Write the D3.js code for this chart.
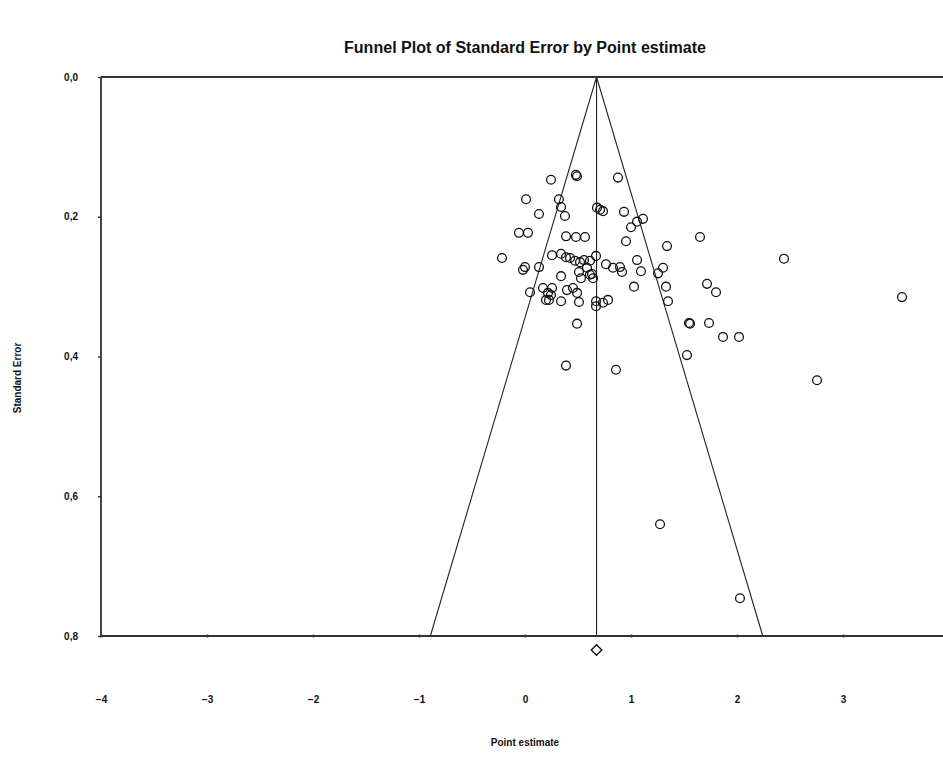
<!DOCTYPE html>
<html>
<head>
<meta charset="utf-8">
<script src="https://cdn.jsdelivr.net/npm/d3@7"></script>
<style>
    body { margin: 0; background: #fff; }
    text { font-family: "Liberation Sans Narrow", "Arial Narrow", "Liberation Sans", sans-serif; font-weight: bold; fill: #111; }
</style>
</head>
<body>
<svg id="funnel" width="943" height="776"></svg>
<script>

// study point estimates and their standard errors
var pointEstimates = [
    0.245, 0.49, 0.48, 0.877, 0.01, 0.32, 0.34, 0.377, 0.132, 0.679,
    0.708, 0.736, 0.934, 1.057, 1.113, 1.0, 0.953, 1.34, 1.651, -0.057,
    0.028, 0.387, 0.481, 0.566, -0.217, 0.255, 0.34, 0.387, 0.425, 0.472,
    0.519, 0.557, 0.613, 0.67, 0.764, 0.83, 0.896, 0.915, 1.057, 1.094,
    1.255, 1.302, -0.019, 0.0, 0.132, 0.34, 0.509, 0.528, 0.632, 0.642,
    0.585, 0.047, 0.17, 0.217, 0.255, 0.245, 0.226, 0.34, 0.396, 0.453,
    0.491, 0.509, 0.67, 0.67, 0.736, 0.783, 1.028, 1.33, 1.349, 1.717,
    1.802, 1.547, 1.557, 1.736, 0.491, 0.387, 0.858, 1.528, 1.868, 2.019,
    2.443, 3.557, 2.755, 1.274, 2.028, 0.613, 0.198
];
var standardErrors = [
    0.147, 0.142, 0.140, 0.144, 0.175, 0.175, 0.186, 0.199, 0.196, 0.187,
    0.190, 0.192, 0.193, 0.207, 0.203, 0.215, 0.235, 0.242, 0.229, 0.223,
    0.223, 0.228, 0.229, 0.229, 0.259, 0.255, 0.253, 0.258, 0.259, 0.263,
    0.265, 0.262, 0.263, 0.256, 0.268, 0.273, 0.272, 0.279, 0.262, 0.278,
    0.281, 0.273, 0.276, 0.272, 0.272, 0.285, 0.279, 0.288, 0.282, 0.288,
    0.273, 0.308, 0.302, 0.309, 0.302, 0.312, 0.319, 0.321, 0.305, 0.302,
    0.309, 0.322, 0.321, 0.328, 0.323, 0.319, 0.300, 0.300, 0.321, 0.296,
    0.308, 0.352, 0.353, 0.352, 0.353, 0.413, 0.419, 0.398, 0.372, 0.372,
    0.260, 0.315, 0.434, 0.640, 0.746, 0.283, 0.319
];

// combined effect (funnel apex)
var pooledEstimate = 0.675;
var zValue = 1.96;

var xTicks = [-4, -3, -2, -1, 0, 1, 2, 3, 4];
var yTicks = [0, 0.2, 0.4, 0.6, 0.8];

var titleText = "Funnel Plot of Standard Error by Point estimate";
var xLabel = "Point estimate";
var yLabel = "Standard Error";

var svg = d3.select("#funnel");

var x = d3.scaleLinear().domain([-4, 4]).range([101, 949]);
var y = d3.scaleLinear().domain([0, 0.8]).range([77, 636]);

var fmt = function(v) { return d3.format(".1f")(v).replace(".", ","); };

// title, squeezed to look like the narrow original font
svg.append("text")
    .attr("x", 525)
    .attr("y", 53)
    .attr("text-anchor", "middle")
    .attr("font-size", 16)
    .attr("textLength", 362)
    .attr("lengthAdjust", "spacingAndGlyphs")
    .text(titleText);

// funnel lines
var maxSe = y.domain()[1];
var funnel = svg.append("g").attr("class", "funnel")
    .attr("stroke", "#222")
    .attr("stroke-width", 1.1)
    .attr("fill", "none");

funnel.append("line")
    .attr("x1", x(pooledEstimate)).attr("y1", y(0))
    .attr("x2", x(pooledEstimate - zValue * maxSe)).attr("y2", y(maxSe));
funnel.append("line")
    .attr("x1", x(pooledEstimate)).attr("y1", y(0))
    .attr("x2", x(pooledEstimate + zValue * maxSe)).attr("y2", y(maxSe));
funnel.append("line")
    .attr("x1", x(pooledEstimate)).attr("y1", y(0))
    .attr("x2", x(pooledEstimate)).attr("y2", y(maxSe));

// frame: top, left and bottom axis lines
var frame = svg.append("g").attr("stroke", "#333").attr("stroke-width", 1.8);
frame.append("line").attr("x1", x(-4)).attr("y1", y(0)).attr("x2", x(4)).attr("y2", y(0));
frame.append("line").attr("x1", x(-4)).attr("y1", y(0)).attr("x2", x(-4)).attr("y2", y(0.8));
frame.append("line").attr("x1", x(-4)).attr("y1", y(0.8)).attr("x2", x(4)).attr("y2", y(0.8));

// y axis
var yAxis = d3.axisLeft(y)
    .tickValues(yTicks)
    .tickSize(3)
    .tickPadding(20)
    .tickFormat(fmt);

var yg = svg.append("g")
    .attr("transform", "translate(" + x(-4) + ",0)")
    .call(yAxis);
yg.select(".domain").remove();
yg.selectAll(".tick line").attr("stroke", "#333").attr("stroke-width", 1.5);
yg.selectAll(".tick text").attr("font-size", 10).attr("font-family", null);

// x axis: small tick marks on the line, labels further below
var xAxis = d3.axisBottom(x)
    .tickValues(xTicks)
    .tickSize(3)
    .tickPadding(58)
    .tickFormat(d3.format("d"));

var xg = svg.append("g")
    .attr("transform", "translate(0," + (y(0.8) - 1.5) + ")")
    .call(xAxis);
xg.select(".domain").remove();
xg.selectAll(".tick line").attr("stroke", "#333").attr("stroke-width", 1.5);
xg.selectAll(".tick text").attr("font-size", 10).attr("font-family", null);

// study points
var points = d3.zip(pointEstimates, standardErrors);
svg.append("g").attr("class", "points")
    .selectAll("circle")
    .data(points)
    .enter().append("circle")
    .attr("cx", function(d) { return x(d[0]); })
    .attr("cy", function(d) { return y(d[1]); })
    .attr("r", 4.4)
    .attr("fill", "none")
    .attr("stroke", "#111")
    .attr("stroke-width", 1.3);

// diamond for combined estimate
svg.append("path")
    .attr("d", d3.symbol().type(d3.symbolDiamond2).size(70))
    .attr("transform", "translate(" + x(pooledEstimate) + "," + (y(0.8) + 14) + ")")
    .attr("fill", "none")
    .attr("stroke", "#111")
    .attr("stroke-width", 1.4);

// axis titles
svg.append("text")
    .attr("x", 525)
    .attr("y", 746)
    .attr("text-anchor", "middle")
    .attr("font-size", 10)
    .text(xLabel);

svg.append("text")
    .attr("transform", "translate(21,378) rotate(-90)")
    .attr("text-anchor", "middle")
    .attr("font-size", 10)
    .text(yLabel);

</script>
</body>
</html>
